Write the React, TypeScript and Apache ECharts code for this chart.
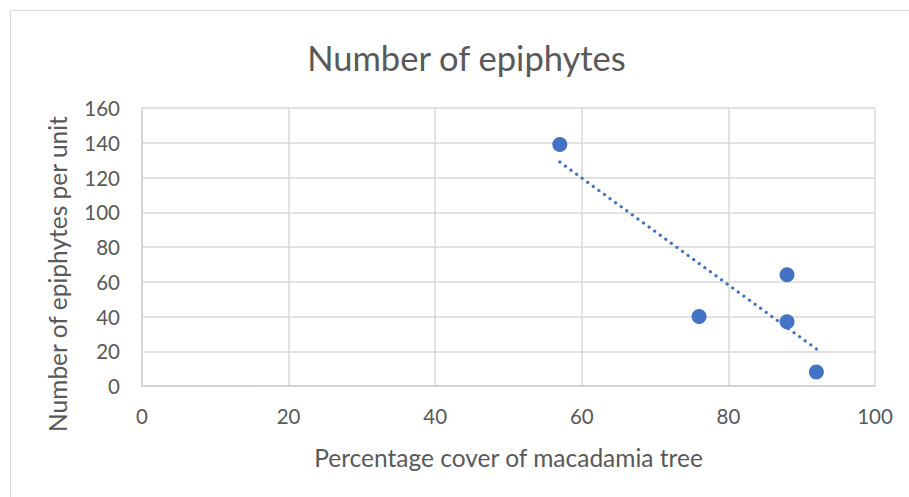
import React, { useEffect, useRef } from "react";
import * as echarts from "echarts";

const coverPct = [57, 76, 88, 88, 92];
const epiphytes = [139, 40, 64, 37, 8];
const xTicks = { min: 0, max: 100, interval: 20 };
const yTicks = { min: 0, max: 160, interval: 20 };
const chartTitle = "Number of epiphytes";

function regression(xs: number[], ys: number[]) {
  const n = xs.length;
  const mx = xs.reduce((a, b) => a + b, 0) / n;
  const my = ys.reduce((a, b) => a + b, 0) / n;
  let sxy = 0, sxx = 0;
  for (let i = 0; i < n; i++) {
    sxy += (xs[i] - mx) * (ys[i] - my);
    sxx += (xs[i] - mx) * (xs[i] - mx);
  }
  const slope = sxy / sxx;
  return (x: number) => my + slope * (x - mx);
}

export default function App() {
  const ref = useRef<HTMLDivElement>(null);
  useEffect(() => {
    if (!ref.current) return;
    const chart = echarts.init(ref.current, null, { renderer: "svg" });
    const f = regression(coverPct, epiphytes);
    const x0 = Math.min(...coverPct);
    const x1 = Math.max(...coverPct);
    const font = "Lato";
    const textColor = "#595959";
    chart.setOption({
      animation: false,
      backgroundColor: "#ffffff",
      graphic: [
        {
          type: "rect",
          shape: { x: 10.5, y: 10.5, width: 920, height: 520 },
          style: { fill: "none", stroke: "#d9d9d9", lineWidth: 1 },
          silent: true,
        },
        {
          type: "text",
          x: 466.5,
          y: 57,
          style: {
            text: chartTitle,
            fontFamily: font,
            fontSize: 34.5,
            fill: textColor,
            textAlign: "center",
            textVerticalAlign: "middle",
          },
          silent: true,
        },
      ],
      grid: { left: 142, right: 34, top: 108, bottom: 111, containLabel: false },
      xAxis: {
        type: "value",
        min: xTicks.min,
        max: xTicks.max,
        interval: xTicks.interval,
        name: "Percentage cover of macadamia tree",
        nameLocation: "middle",
        nameGap: 59,
        nameTextStyle: { fontFamily: font, fontSize: 24.5, color: textColor },
        axisLine: { show: true, lineStyle: { color: "#d0d0d0", width: 1.5 } },
        axisTick: { show: false },
        splitLine: { show: true, lineStyle: { color: "#d9d9d9", width: 1.5 } },
        axisLabel: { fontFamily: font, fontSize: 20.5, color: textColor, margin: 19 },
      },
      yAxis: {
        type: "value",
        min: yTicks.min,
        max: yTicks.max,
        interval: yTicks.interval,
        name: "Number of epiphytes per unit",
        nameLocation: "middle",
        nameGap: 72,
        nameTextStyle: { fontFamily: font, fontSize: 24.5, color: textColor, padding: [0, 54, 0, 0] },
        axisLine: { show: true, lineStyle: { color: "#d0d0d0", width: 1.5 } },
        axisTick: { show: false },
        splitLine: { show: true, lineStyle: { color: "#d9d9d9", width: 1.5 } },
        axisLabel: { fontFamily: font, fontSize: 20.5, color: textColor, margin: 22 },
      },
      series: [
        {
          type: "line",
          data: [
            [x0, f(x0)],
            [x1, f(x1)],
          ],
          symbol: "none",
          lineStyle: { color: "#4472C4", width: 3.2, type: [0.1, 6.8], cap: "round" },
          z: 1,
        },
        {
          type: "scatter",
          data: coverPct.map((x, i) => [x, epiphytes[i]]),
          symbolSize: 15,
          itemStyle: { color: "#4472C4", opacity: 1 },
          z: 2,
        },
      ],
    });
    return () => chart.dispose();
  }, []);
  return (
    <div
      ref={ref}
      style={{ position: "fixed", left: 0, top: 0, width: 909, height: 497 }}
    />
  );
}
